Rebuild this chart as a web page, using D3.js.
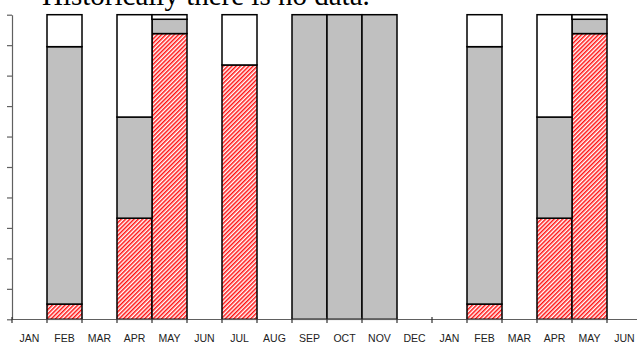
<!DOCTYPE html>
<html>
<head>
<meta charset="utf-8">
<script src="https://cdn.jsdelivr.net/npm/d3@7"></script>
<style>
html,body{margin:0;padding:0;background:#fff;overflow:hidden;}
svg{display:block;}
</style>
</head>
<body>
<svg id="chart" width="637" height="343"></svg>
<script>
const title = "Historically there is no data.";
const categories = ["JAN","FEB","MAR","APR","MAY","JUN","JUL","AUG","SEP","OCT","NOV","DEC","JAN","FEB","MAR","APR","MAY","JUN"];
const redValues   = [0, 5, 0, 33.2, 93.8, 0, 83.5, 0, 0, 0, 0, 0, 0, 5, 0, 33.2, 93.8, 0];
const grayValues  = [0, 84.5, 0, 33.2, 4.7, 0, 0, 0, 100, 100, 100, 0, 0, 84.5, 0, 33.2, 4.7, 0];
const whiteValues = [0, 10.5, 0, 33.6, 1.5, 0, 16.5, 0, 0, 0, 0, 0, 0, 10.5, 0, 33.6, 1.5, 0];
const yTicks = [0,10,20,30,40,50,60,70,80,90,100];

const svg = d3.select("#chart");
const defs = svg.append("defs");
const pat = defs.append("pattern").attr("id","hatch").attr("patternUnits","userSpaceOnUse")
  .attr("width",3).attr("height",3).attr("patternTransform","rotate(45)");
pat.append("rect").attr("width",3).attr("height",3).attr("fill","#fff");
pat.append("rect").attr("width",1.5).attr("height",3).attr("fill","#ff1010");

const idx = categories.map((d,i)=>i);
const x = d3.scaleBand().domain(idx).range([12, 12 + 35*categories.length]).padding(0);
const y = d3.scaleLinear().domain([0,100]).range([319.3, 14.7]);

// title
svg.append("text").attr("x",42).attr("y",5)
  .attr("font-family","'Liberation Serif','Times New Roman',serif")
  .attr("font-size",29).attr("fill","#000").text(title);

// stacked data
const rows = idx.map(i=>({i, red: redValues[i], gray: grayValues[i], white: whiteValues[i]}));
const stack = d3.stack().keys(["red","gray","white"])(rows);
const fills = {red:"url(#hatch)", gray:"#c0c0c0", white:"#ffffff"};

stack.forEach(layer=>{
  svg.append("g").selectAll("rect").data(layer.filter(d=>d[1]-d[0]>0)).join("rect")
    .attr("x", d=>x(d.data.i))
    .attr("width", x.bandwidth())
    .attr("y", d=>y(d[1]))
    .attr("height", d=>y(d[0])-y(d[1]))
    .attr("fill", fills[layer.key])
    .attr("stroke","#000").attr("stroke-width",1.5);
});

// y axis
const yAxis = d3.axisLeft(y).tickValues(yTicks).tickFormat("").tickSize(5).tickSizeOuter(0);
const gy = svg.append("g").attr("transform","translate(12,0)").call(yAxis);
gy.selectAll("path,line").attr("stroke","#606060").attr("stroke-width",1.2);

// x axis
const xEdges = d3.range(categories.length+1).map(k=> 12 + k*x.step());
const gx = svg.append("g");
gx.append("line").attr("x1",12).attr("x2",637).attr("y1",319.5).attr("y2",319.5)
  .attr("stroke","#606060").attr("stroke-width",1.2);
gx.selectAll("line.tk").data(xEdges).join("line").attr("class","tk")
  .attr("x1",d=>d).attr("x2",d=>d).attr("y1",317).attr("y2",323)
  .attr("stroke","#303030").attr("stroke-width",1.2);
gx.selectAll("text").data(idx).join("text")
  .attr("x", i=> x(i) + x.bandwidth()/2).attr("y",341.5)
  .attr("text-anchor","middle")
  .attr("font-family","'Liberation Sans',Arial,sans-serif")
  .attr("font-size",10.5).attr("fill","#222")
  .text(i=>categories[i]);
</script>
</body>
</html>
